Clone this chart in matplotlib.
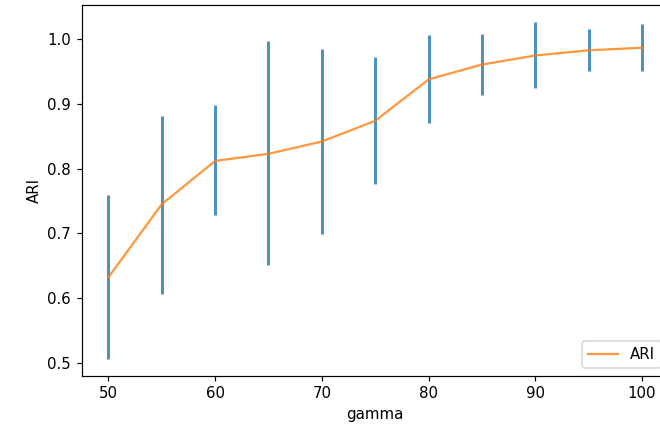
import numpy as np
import matplotlib
matplotlib.use("Agg")
import matplotlib.pyplot as plt

# gamma values and ARI mean / spread
gamma = [50, 55, 60, 65, 70, 75, 80, 85, 90, 95, 100]
ari_mean = [0.632, 0.745, 0.812, 0.823, 0.842, 0.874, 0.938, 0.961, 0.975, 0.983, 0.987]
ari_low = [0.506, 0.606, 0.728, 0.651, 0.699, 0.776, 0.870, 0.914, 0.925, 0.951, 0.951]
ari_high = [0.759, 0.882, 0.898, 0.998, 0.985, 0.972, 1.006, 1.008, 1.027, 1.016, 1.024]

fig = plt.figure(figsize=(660 / 108, 429 / 108), dpi=108)
ax = fig.add_axes([81.7 / 660, 53.3 / 429, 587 / 660, 370.7 / 429])

ax.vlines(gamma, ari_low, ari_high, colors="C0", linewidth=2, alpha=0.8)
ax.plot(gamma, ari_mean, color="C1", linewidth=1.5, alpha=0.8, label="ARI")

ax.set_xlabel("gamma")
ax.set_ylabel("ARI")
ax.legend(loc="lower right")

fig.savefig("out.png", dpi=108)
